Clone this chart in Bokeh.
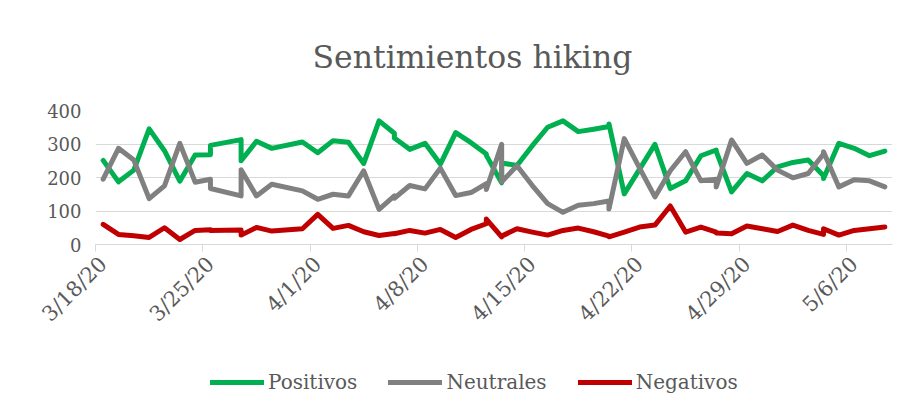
import math
import pandas as pd
from bokeh.plotting import figure
from bokeh.layouts import column
from bokeh.models import (ColumnDataSource, Range1d, FixedTicker, LinearAxis,
                          Legend, LegendItem)
from bokeh.embed import file_html
from bokeh.resources import INLINE

# ---------------- data ----------------
fechas = ["2020-03-18", "2020-03-19", "2020-03-20", "2020-03-21", "2020-03-22",
          "2020-03-23", "2020-03-24", "2020-03-25", "2020-03-25", "2020-03-27",
          "2020-03-27", "2020-03-28", "2020-03-29", "2020-03-31", "2020-04-01",
          "2020-04-02", "2020-04-03", "2020-04-04", "2020-04-05", "2020-04-06",
          "2020-04-06", "2020-04-07", "2020-04-08", "2020-04-09", "2020-04-10",
          "2020-04-11", "2020-04-12", "2020-04-12", "2020-04-13", "2020-04-13",
          "2020-04-14", "2020-04-15", "2020-04-16", "2020-04-17", "2020-04-18",
          "2020-04-19", "2020-04-20", "2020-04-20", "2020-04-21", "2020-04-22",
          "2020-04-23", "2020-04-24", "2020-04-25", "2020-04-26", "2020-04-27",
          "2020-04-27", "2020-04-28", "2020-04-29", "2020-04-30", "2020-05-01",
          "2020-05-02", "2020-05-03", "2020-05-04", "2020-05-04", "2020-05-05",
          "2020-05-06", "2020-05-07", "2020-05-08"]

positivos = [251, 187, 222, 345, 280, 189, 267, 268, 296, 313, 250, 308, 287, 306,
             274, 310, 305, 242, 369, 332, 318, 284, 302, 240, 334, 304, 270, 266,
             184, 243, 236, 295, 350, 369, 337, 344, 352, 360, 151, 225, 299, 167,
             190, 265, 282, 278, 157, 212, 190, 232, 245, 252, 205, 197, 302, 287,
             265, 279]

neutrales = [195, 287, 252, 137, 175, 302, 186, 195, 167, 145, 223, 145, 180, 160,
             135, 150, 145, 220, 105, 145, 138, 176, 166, 228, 146, 155, 182, 164,
             299, 187, 235, 176, 122, 96, 117, 122, 130, 106, 316, 228, 142, 220,
             277, 190, 195, 172, 312, 242, 267, 222, 199, 212, 270, 277, 172, 193,
             190, 172]

negativos = [60, 30, 26, 21, 50, 15, 42, 44, 42, 43, 28, 51, 40, 47, 90, 48, 57, 38,
             27, 33, 32, 42, 34, 45, 21, 45, 62, 76, 23, 25, 47, 37, 28, 42, 49, 38,
             25, 23, 37, 52, 58, 115, 37, 52, 37, 34, 32, 55, 47, 39, 58, 42, 30, 47,
             28, 42, 47, 52]

tick_dates = ["2020-03-18", "2020-03-25", "2020-04-01", "2020-04-08",
              "2020-04-15", "2020-04-22", "2020-04-29", "2020-05-06"]
tick_labels = ["3/18/20", "3/25/20", "4/1/20", "4/8/20",
               "4/15/20", "4/22/20", "4/29/20", "5/6/20"]
y_ticks = [0, 100, 200, 300, 400]
range_start, range_end = "2020-03-18", "2020-05-09"

series_names = ["Positivos", "Neutrales", "Negativos"]
series_cols = ["pos", "neu", "neg"]
series_colors = ["#00B050", "#808080", "#C00000"]

# ---------------- helpers ----------------
HALF_DAY = pd.Timedelta(hours=12)


def ms(ts):
    return int(pd.Timestamp(ts).value // 10**6)


x_vals = [ms(pd.Timestamp(f) + HALF_DAY) for f in fechas]
src = ColumnDataSource(dict(x=x_vals, pos=positivos, neu=neutrales, neg=negativos))

FONT = "DejaVu Serif"
TXT = "#595959"
GRID = "#D9D9D9"

p = figure(frame_width=797, frame_height=134, output_backend="svg",
           toolbar_location=None,
           x_range=Range1d(ms(range_start), ms(range_end)),
           y_range=Range1d(0, 400), x_axis_type=None,
           min_border_left=95, min_border_right=20,
           min_border_top=109, min_border_bottom=118,
           background_fill_color="white", border_fill_color="white")
p.outline_line_color = None

# title
p.title.text = "Sentimientos hiking"
p.title.text_font = FONT
p.title.text_font_size = "31.5px"
p.title.text_font_style = "normal"
p.title.text_color = TXT
p.title.align = "left"
p.title.offset = 217
p.title.standoff = 72

# y axis
yax = p.yaxis[0]
yax.ticker = FixedTicker(ticks=y_ticks)
yax.axis_line_color = None
yax.major_tick_line_color = None
yax.minor_tick_line_color = None
yax.major_label_text_font = FONT
yax.major_label_text_font_size = "18px"
yax.major_label_text_color = TXT
yax.major_label_standoff = 8
p.ygrid.grid_line_color = GRID
p.ygrid.grid_line_width = 1

# x axis line + tick marks at week boundaries (labels left empty)
bounds = [ms(d) for d in tick_dates]
ax1 = LinearAxis(ticker=FixedTicker(ticks=bounds),
                 major_label_overrides={b: "" for b in bounds},
                 axis_line_color=GRID, axis_line_width=1,
                 major_tick_line_color=GRID, major_tick_in=0, major_tick_out=7,
                 minor_tick_line_color=None,
                 major_label_text_font_size="1px", major_label_standoff=0)
p.add_layout(ax1, "below")

# x axis labels at the middle of each day slot
centers = [ms(pd.Timestamp(d) + HALF_DAY) for d in tick_dates]
ax2 = LinearAxis(ticker=FixedTicker(ticks=centers),
                 major_label_overrides={c: lab for c, lab in zip(centers, tick_labels)},
                 axis_line_color=None, major_tick_line_color=None,
                 major_tick_in=0, major_tick_out=0, minor_tick_line_color=None,
                 major_label_orientation=math.pi / 4,
                 major_label_text_font=FONT, major_label_text_font_size="21px",
                 major_label_text_color=TXT, major_label_standoff=9)
p.add_layout(ax2, "below")

# lines
for col, color in zip(series_cols, series_colors):
    p.line("x", col, source=src, line_color=color, line_width=5,
           line_join="round", line_cap="round")

# ---------------- legend strip under the chart ----------------
pl = figure(width=912, height=40, output_backend="svg", toolbar_location=None,
            x_range=p.x_range, y_range=Range1d(1000, 2000),
            x_axis_type=None, y_axis_type=None,
            min_border_left=0, min_border_right=0,
            min_border_top=0, min_border_bottom=0,
            background_fill_color="white", border_fill_color="white")
pl.outline_line_color = None
pl.xgrid.visible = False
pl.ygrid.visible = False

leg_renderers = []
for col, color in zip(series_cols, series_colors):
    r = pl.line("x", col, source=src, line_color=color, line_width=5,
                line_join="round", line_cap="round")
    leg_renderers.append(r)

legend = Legend(items=[LegendItem(label=n, renderers=[r])
                       for n, r in zip(series_names, leg_renderers)],
                orientation="horizontal", location="center_left",
                border_line_color=None, background_fill_alpha=0,
                label_text_font=FONT, label_text_font_size="20px",
                label_text_color=TXT, glyph_width=54, glyph_height=20,
                label_standoff=4, spacing=31, margin=115, padding=4)
pl.add_layout(legend, "center")

layout = column(p, pl, spacing=0)

open("out.html", "w").write(file_html(layout, INLINE))
